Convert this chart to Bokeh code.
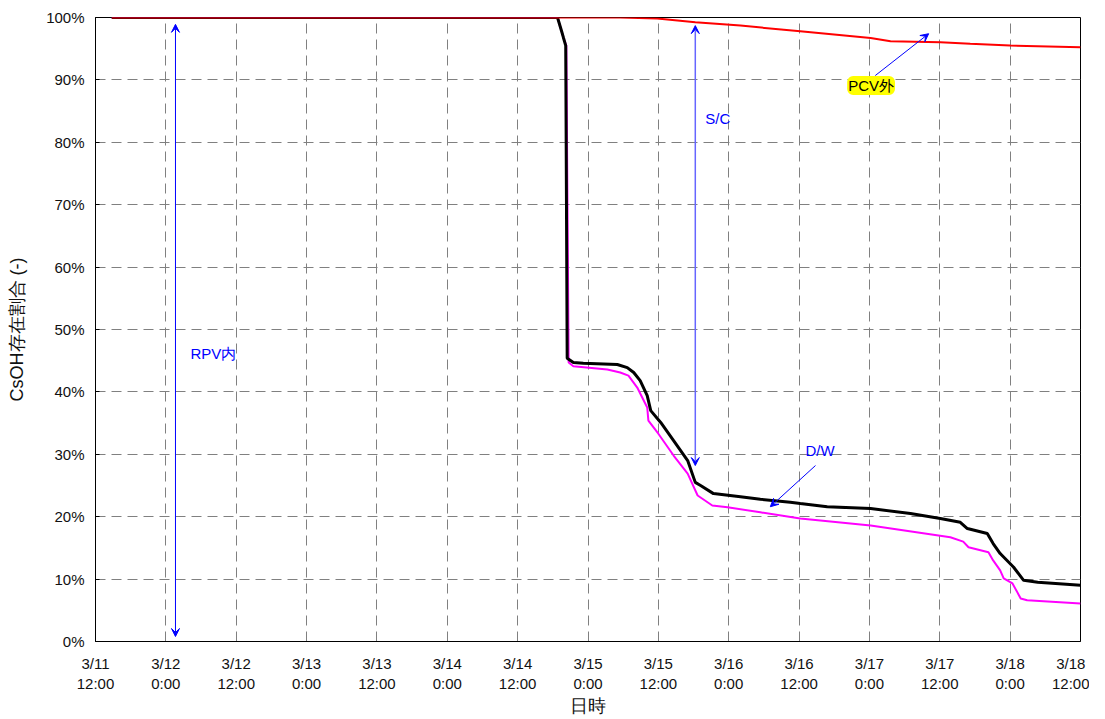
from bokeh.plotting import figure
from bokeh.models import Range1d, FixedTicker, Arrow, VeeHead, Label
from bokeh.embed import file_html
from bokeh.resources import INLINE

# hours since 3/11 12:00
tick_hours = list(range(0, 169, 12))
tick_labels = ["3/11\n12:00", "3/12\n0:00", "3/12\n12:00", "3/13\n0:00", "3/13\n12:00",
               "3/14\n0:00", "3/14\n12:00", "3/15\n0:00", "3/15\n12:00", "3/16\n0:00",
               "3/16\n12:00", "3/17\n0:00", "3/17\n12:00", "3/18\n0:00", "3/18\n12:00"]
y_ticks = list(range(0, 101, 10))

# S/C boundary (black)
sc_h = [2.77, 78.8, 79.5, 79.8, 80.2, 80.45, 81.5, 83.2, 89.0, 90.7, 91.8, 92.9, 94.1, 94.7,
        96.4, 98.6, 101.0, 102.3, 103.2, 105.4, 110.0, 113.4, 118.5, 120.2, 124.8, 132.2,
        139.0, 144.1, 147.5, 148.7, 152.1, 153.1, 154.3, 156.6, 158.3, 160.7, 168.0]
sc_v = [100, 100, 97.8, 96.8, 95.5, 45.4, 44.7, 44.6, 44.4, 43.9, 43.1, 41.8, 39.4, 37.0,
        35.1, 32.2, 29.0, 25.5, 25.0, 23.7, 23.2, 22.8, 22.3, 22.1, 21.6, 21.3,
        20.5, 19.7, 19.1, 18.1, 17.3, 15.7, 14.1, 11.9, 9.8, 9.5, 9.0]

# D/W boundary (magenta)
dw_h = [2.77, 78.8, 79.5, 79.8, 80.3, 80.7, 81.5, 87.3, 89.5, 90.9, 92.4, 94.1, 94.3, 96.0,
        98.6, 101.0, 102.7, 105.2, 107.8, 113.4, 120.2, 132.2, 145.8, 148.0, 148.9, 152.3,
        153.1, 154.3, 154.9, 156.4, 157.8, 158.9, 168.0]
dw_v = [100, 100, 97.8, 96.8, 95.5, 44.7, 44.1, 43.6, 43.1, 42.6, 40.7, 37.5, 35.4, 33.3,
        29.8, 26.9, 23.4, 21.8, 21.5, 20.7, 19.7, 18.6, 16.7, 16.0, 15.1, 14.3,
        13.0, 11.4, 10.1, 9.3, 6.9, 6.6, 6.1]

# PCV outside boundary (red)
pcv_h = [2.77, 89.5, 95.8, 102.3, 110.0, 120.2, 132.2, 135.6, 144.1, 149.2, 156.0, 168.0]
pcv_v = [100, 100, 99.85, 99.25, 98.7, 97.8, 96.7, 96.2, 96.05, 95.8, 95.5, 95.25]

FONT = "Liberation Sans"

p = figure(frame_width=985, frame_height=624, output_backend="svg", toolbar_location=None,
           x_range=Range1d(0, 168), y_range=Range1d(0, 100),
           min_border_left=95, min_border_right=9, min_border_top=17, min_border_bottom=70,
           background_fill_color="white", border_fill_color="white")
p.outline_line_color = "black"
p.outline_line_width = 1

for ax in (p.xaxis[0], p.yaxis[0]):
    ax.axis_line_color = "black"
    ax.major_label_text_font = FONT
    ax.major_label_text_font_size = "15px"
    ax.major_label_text_color = "#111111"
    ax.axis_label_text_font = FONT
    ax.axis_label_text_font_size = "18px"
    ax.axis_label_text_font_style = "normal"
    ax.axis_label_text_color = "#111111"
    ax.minor_tick_line_color = None

p.xaxis.ticker = FixedTicker(ticks=tick_hours)
p.xaxis.major_label_overrides = {h: l for h, l in zip(tick_hours, tick_labels)}
p.xaxis.major_tick_in = 0
p.xaxis.major_tick_out = 0
p.xaxis.major_label_standoff = 13
p.xaxis.axis_label = "日時"
p.xaxis.axis_label_standoff = 1

p.yaxis.ticker = FixedTicker(ticks=y_ticks)
p.yaxis.major_label_overrides = {v: f"{v}%" for v in y_ticks}
p.yaxis.major_tick_in = 4
p.yaxis.major_tick_out = 0
p.yaxis.major_label_standoff = 11
p.yaxis.axis_label = "CsOH存在割合 (-)"
p.yaxis.axis_label_standoff = 16

for g in (p.xgrid[0], p.ygrid[0]):
    g.grid_line_color = "#808080"
    g.grid_line_dash = "10 6"
    g.grid_line_width = 1

p.line(dw_h, dw_v, line_color="#ff00ff", line_width=2)
p.line(sc_h, sc_v, line_color="black", line_width=3)
p.line(pcv_h, pcv_v, line_color="#ff0000", line_width=2)

def head():
    return VeeHead(size=8, line_color="#0000ff", fill_color="#0000ff", line_width=1)

p.add_layout(Arrow(start=head(), end=head(), x_start=13.64, y_start=98.9, x_end=13.64, y_end=0.8,
                   line_color="#0000ff", line_width=1))
p.add_layout(Arrow(start=head(), end=head(), x_start=102.3, y_start=98.7, x_end=102.3, y_end=28.2,
                   line_color="#6666ff", line_width=1.5))
p.add_layout(Arrow(end=head(), x_start=122.8, y_start=28.2, x_end=115.1, y_end=21.6,
                   line_color="#0000ff", line_width=1))
p.add_layout(Arrow(end=head(), x_start=133.0, y_start=90.7, x_end=142.1, y_end=97.4,
                   line_color="#0000ff", line_width=1))

for x, y, t in [(16.2, 46.2, "RPV内"), (104.0, 83.8, "S/C"), (121.1, 30.6, "D/W")]:
    p.add_layout(Label(x=x, y=y, text=t, text_baseline="middle", text_color="#0000ff",
                       text_font=FONT, text_font_size="15px"))

p.add_layout(Label(x=128.2, y=89.1, text="PCV外", text_baseline="middle", text_color="black",
                   text_font=FONT, text_font_size="15px", background_fill_color="#ffff00",
                   border_radius=6, padding=1))

open("out.html", "w").write(file_html(p, INLINE))
